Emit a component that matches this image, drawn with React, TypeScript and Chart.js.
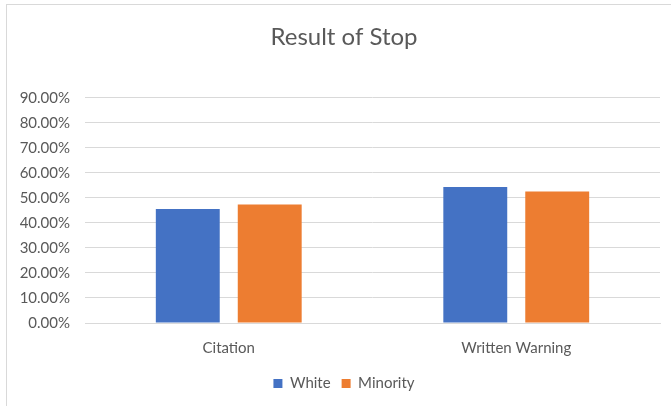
import React, { useEffect, useRef } from "react";
import { Chart, registerables } from "chart.js";

Chart.register(...registerables);

const categories = ["Citation", "Written Warning"];
const whiteValues = [0.456, 0.544];
const minorityValues = [0.474, 0.526];
const yTicks = [0, 0.1, 0.2, 0.3, 0.4, 0.5, 0.6, 0.7, 0.8, 0.9];

const FONT = "Lato, 'Open Sans', sans-serif";
const TEXT = "#595959";
const GRID = "#d9d9d9";

export default function App() {
  const ref = useRef<HTMLCanvasElement | null>(null);

  useEffect(() => {
    if (!ref.current) return;
    const chart = new Chart(ref.current, {
      type: "bar",
      data: {
        labels: categories,
        datasets: [
          {
            label: "White",
            data: whiteValues,
            backgroundColor: "#4472c4",
            categoryPercentage: 0.57,
            barPercentage: 0.78,
          },
          {
            label: "Minority",
            data: minorityValues,
            backgroundColor: "#ed7d31",
            categoryPercentage: 0.57,
            barPercentage: 0.78,
          },
        ],
      },
      options: {
        animation: false,
        responsive: false,
        maintainAspectRatio: false,
        layout: { padding: { top: 0, right: 0, bottom: 5, left: 17 } },
        plugins: {
          title: {
            display: true,
            text: "Result of Stop",
            color: TEXT,
            font: { family: FONT, size: 24, weight: "normal" },
            padding: { top: 23, bottom: 46 },
          },
          legend: {
            position: "bottom",
            labels: {
              color: TEXT,
              font: { family: FONT, size: 15 },
              boxWidth: 9,
              boxHeight: 9,
              padding: 11,
            },
          },
          tooltip: { enabled: false },
        },
        scales: {
          x: {
            grid: { display: false },
            border: { color: GRID },
            ticks: {
              color: TEXT,
              font: { family: FONT, size: 15 },
              padding: 8,
            },
          },
          y: {
            min: 0,
            max: 0.9,
            afterFit: (scale: any) => {
              scale.width = 68;
            },
            afterBuildTicks: (scale: any) => {
              scale.ticks = yTicks.map((v) => ({ value: v }));
            },
            grid: { color: GRID, lineWidth: 1, drawTicks: false },
            border: { display: false },
            ticks: {
              color: TEXT,
              font: { family: FONT, size: 15 },
              padding: 15,
              callback: (v: any) => (Number(v) * 100).toFixed(2) + "%",
            },
          },
          // empty spacer on the right edge of the plot area
          yRight: {
            position: "right",
            min: 0,
            max: 0.9,
            afterFit: (scale: any) => {
              scale.width = 11;
            },
            grid: { display: false, drawTicks: false },
            border: { display: false },
            ticks: { display: false },
          },
        },
      },
    });
    return () => chart.destroy();
  }, []);

  return (
    <div style={{ position: "fixed", left: 0, top: 0, width: 671, height: 406, background: "#fff" }}>
      <canvas ref={ref} width={671} height={406} style={{ position: "absolute", left: 0, top: 0 }} />
      <div
        style={{
          position: "absolute",
          left: 6,
          top: 4,
          width: 700,
          height: 440,
          borderLeft: `1px solid ${GRID}`,
          borderTop: `1px solid ${GRID}`,
          pointerEvents: "none",
        }}
      />
    </div>
  );
}
